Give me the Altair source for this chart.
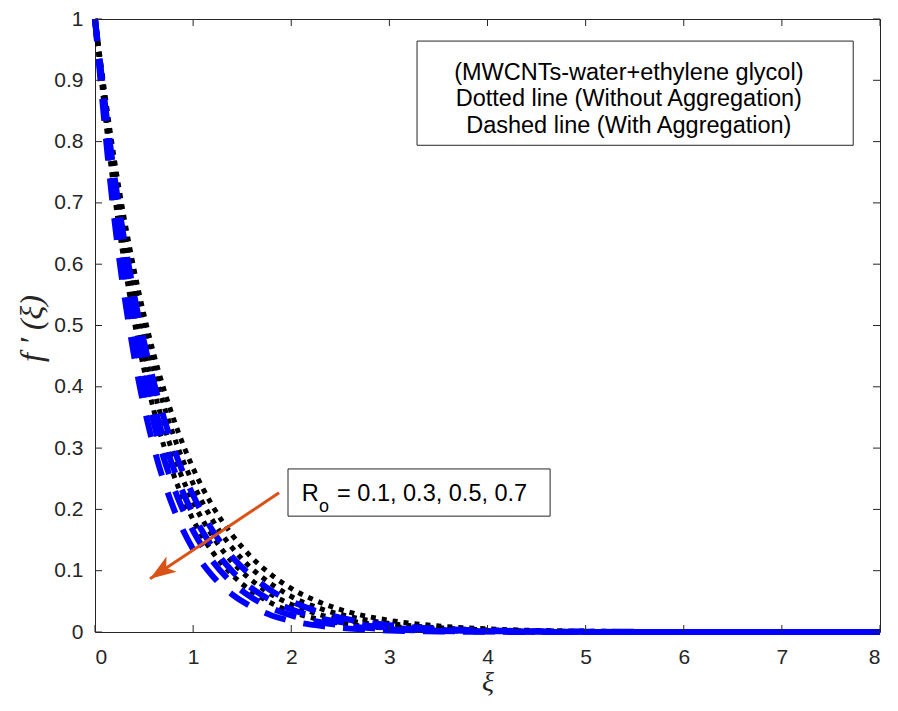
import altair as alt
import pandas as pd

# ---------------- data ----------------
xi = [0, 0.2, 0.4, 0.6, 0.8, 1.0, 1.2, 1.4, 1.6, 1.8, 2.0, 2.3, 2.6, 3.0, 3.5, 4.0, 5.0, 6.0, 7.0, 8.0]
ro_labels = ["0.1", "0.3", "0.5", "0.7"]

# Dashed lines (With Aggregation)
dash_01 = [1, 0.741, 0.549, 0.407, 0.301, 0.223, 0.165, 0.122, 0.091, 0.067, 0.050, 0.032, 0.020, 0.011, 0.0052, 0.0025, 0.0006, 0.0001, 0, 0]
dash_03 = [1, 0.719, 0.517, 0.372, 0.267, 0.192, 0.138, 0.099, 0.071, 0.051, 0.037, 0.022, 0.014, 0.0071, 0.0031, 0.0014, 0.0003, 0, 0, 0]
dash_05 = [1, 0.698, 0.487, 0.340, 0.237, 0.165, 0.115, 0.080, 0.056, 0.039, 0.027, 0.016, 0.0093, 0.0045, 0.0018, 0.0007, 0.0001, 0, 0, 0]
dash_07 = [1, 0.670, 0.449, 0.301, 0.202, 0.135, 0.091, 0.061, 0.041, 0.027, 0.018, 0.010, 0.0055, 0.0025, 0.0009, 0.0003, 0, 0, 0, 0]

# Dotted lines (Without Aggregation)
dot_01 = [1, 0.768, 0.590, 0.453, 0.348, 0.267, 0.205, 0.158, 0.121, 0.093, 0.071, 0.048, 0.032, 0.019, 0.0099, 0.0051, 0.0014, 0.0004, 0.0001, 0]
dot_03 = [1, 0.753, 0.567, 0.427, 0.321, 0.242, 0.182, 0.137, 0.103, 0.078, 0.058, 0.038, 0.025, 0.014, 0.0069, 0.0034, 0.0008, 0.0002, 0, 0]
dot_05 = [1, 0.733, 0.538, 0.395, 0.289, 0.212, 0.156, 0.114, 0.084, 0.061, 0.045, 0.028, 0.018, 0.0096, 0.0044, 0.0020, 0.0004, 0.0001, 0, 0]
dot_07 = [1, 0.712, 0.507, 0.361, 0.257, 0.183, 0.130, 0.093, 0.066, 0.047, 0.033, 0.020, 0.012, 0.0061, 0.0026, 0.0011, 0.0002, 0, 0, 0]

x_ticks = [0, 1, 2, 3, 4, 5, 6, 7, 8]
y_ticks = [0, 0.1, 0.2, 0.3, 0.4, 0.5, 0.6, 0.7, 0.8, 0.9, 1.0]

# annotation boxes / texts (data coordinates)
box_x1 = [3.282, 1.967]
box_x2 = [7.727, 4.638]
box_y1 = [0.964, 0.266]
box_y2 = [0.794, 0.189]
legend_lines = ["(MWCNTs-water+ethylene glycol)", "Dotted line (Without Aggregation)", "Dashed line (With Aggregation)"]
legend_x = [5.44, 5.44, 5.44]
legend_y = [0.9005, 0.8581, 0.8140]
ro_parts = ["R", "o", "= 0.1, 0.3, 0.5, 0.7"]
ro_x = [2.107, 2.283, 2.467]
ro_y = [0.214, 0.196, 0.214]
arrow_from = [1.876, 0.227]
arrow_to = [0.561, 0.087]

# ---------------- build tables ----------------
W, H = 785, 613
AX = "#262626"
ORANGE = "#D95319"

def long(series):
    rows = []
    for lab, vals in zip(ro_labels, series):
        for x, y in zip(xi, vals):
            rows.append({"xi": x, "f": y, "Ro": lab})
    return pd.DataFrame(rows)

df_dash = long([dash_01, dash_03, dash_05, dash_07])
df_dot = long([dot_01, dot_03, dot_05, dot_07])

xs = alt.Scale(domain=[0, 8], nice=False, zero=False)
ys = alt.Scale(domain=[0, 1], nice=False, zero=False)

ax_x = alt.Axis(
    values=x_ticks, title="\u03be", labelPadding=14, titlePadding=1,
    titleFont="Liberation Serif", titleFontStyle="italic", titleFontSize=28,
    titleFontWeight="normal", titleColor=AX)
ax_y = alt.Axis(
    values=y_ticks, title="f \u2032 (\u03be)", labelPadding=12,
    labelExpr="datum.value == 0 ? '0' : datum.value == 1 ? '1' : format(datum.value, '.1f')",
    titleFont="Liberation Serif", titleFontStyle="italic", titleFontSize=32,
    titleFontWeight="normal", titleColor=AX, titleX=-64, titleY=309,
    titleBaseline="middle", titleAlign="center")

def X(field):
    return alt.X(field, scale=xs, axis=ax_x)

def Y(field):
    return alt.Y(field, scale=ys, axis=ax_y)

dotted = alt.Chart(df_dot).mark_line(
    color="black", strokeWidth=5, strokeDash=[5, 6], strokeCap="butt", interpolate="monotone"
).encode(x=X("xi:Q"), y=Y("f:Q"), detail="Ro:N")

dashed = alt.Chart(df_dash).mark_line(
    color="#0000FF", strokeWidth=6, strokeDash=[22, 18], strokeCap="butt", interpolate="monotone"
).encode(x=X("xi:Q"), y=Y("f:Q"), detail="Ro:N")

df_xt = pd.DataFrame({"xi": x_ticks})
df_yt = pd.DataFrame({"f": y_ticks})
tick_b = alt.Chart(df_xt).mark_rule(color=AX, strokeWidth=1).encode(x=X("xi:Q"), y=alt.value(H), y2=alt.value(H - 7))
tick_t = alt.Chart(df_xt).mark_rule(color=AX, strokeWidth=1).encode(x=X("xi:Q"), y=alt.value(0), y2=alt.value(7))
tick_l = alt.Chart(df_yt).mark_rule(color=AX, strokeWidth=1).encode(y=Y("f:Q"), x=alt.value(0), x2=alt.value(7))
tick_r = alt.Chart(df_yt).mark_rule(color=AX, strokeWidth=1).encode(y=Y("f:Q"), x=alt.value(W), x2=alt.value(W - 7))

df_box = pd.DataFrame({"xi": box_x1, "x2": box_x2, "f": box_y1, "y2": box_y2})
boxes = alt.Chart(df_box).mark_rect(fill="white", stroke=AX, strokeWidth=1).encode(
    x=X("xi:Q"), x2="x2:Q", y=Y("f:Q"), y2="y2:Q")

df_leg = pd.DataFrame({"txt": legend_lines, "xi": legend_x, "f": legend_y})
leg_text = alt.Chart(df_leg).mark_text(
    align="center", baseline="alphabetic", font="Liberation Sans", fontSize=23.5, color="black"
).encode(x=X("xi:Q"), y=Y("f:Q"), text="txt:N")

df_ro = pd.DataFrame({"txt": ro_parts, "xi": ro_x, "f": ro_y, "s": [23.5, 18, 23.5]})
ro_text = alt.Chart(df_ro).mark_text(
    align="left", baseline="alphabetic", font="Liberation Sans", color="black"
).encode(x=X("xi:Q"), y=Y("f:Q"), text="txt:N", size=alt.Size("s:Q", scale=None, legend=None))

df_arr = pd.DataFrame({"xi": [arrow_from[0]], "f": [arrow_from[1]], "x2": [arrow_to[0]], "y2": [arrow_to[1]]})
arrow_line = alt.Chart(df_arr).mark_rule(color=ORANGE, strokeWidth=3).encode(
    x=X("xi:Q"), x2="x2:Q", y=Y("f:Q"), y2="y2:Q")
df_head = pd.DataFrame({"xi": [arrow_to[0]], "f": [arrow_to[1]]})
arrow_head = alt.Chart(df_head).mark_point(
    shape="M0,0 L0.7,2 L0,1.5 L-0.7,2 Z", filled=True, size=676, angle=236,
    color=ORANGE, opacity=1, strokeWidth=0
).encode(x=X("xi:Q"), y=Y("f:Q"))

chart = alt.layer(
    dotted, dashed, boxes, leg_text, ro_text, arrow_line, arrow_head,
    tick_b, tick_t, tick_l, tick_r
).properties(
    width=W, height=H,
    autosize=alt.AutoSizeParams(type="none"),
    padding={"left": 87, "top": 11, "right": 6, "bottom": 71},
    background="white"
).configure_view(
    stroke=AX, strokeWidth=1
).configure_axis(
    domain=False, ticks=False, grid=False,
    labelColor=AX, labelFont="Liberation Sans", labelFontSize=21
)

chart.save("out.html", embed_options={"renderer": "svg", "actions": False})
